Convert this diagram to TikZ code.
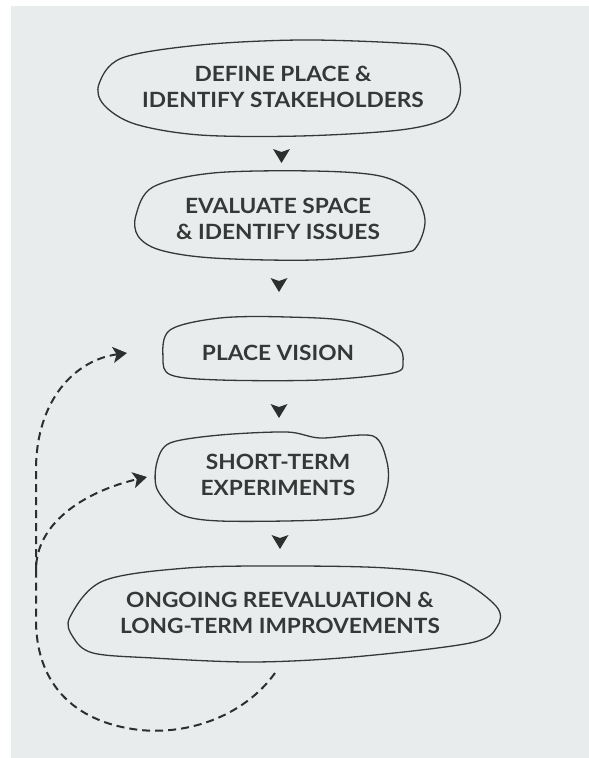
\documentclass[tikz,border=0pt]{standalone}
\usepackage{fontspec}
\setmainfont{Lato}[UprightFont=* Bold, FakeStretch=1.08]
\usetikzlibrary{arrows.meta,calc}
\definecolor{paper}{HTML}{E8ECEC}
\definecolor{ink}{HTML}{363837}
\definecolor{tipink}{HTML}{2C2F2D}
\tikzset{
  blob/.style={draw=ink, line width=1.3pt, line join=round},
  steptext/.style={text=ink, align=center, font=\fontsize{21}{26.5}\selectfont, inner sep=0pt},
  loopline/.style={draw=tipink, line width=2pt, dash pattern=on 8pt off 5pt,
    -{Stealth[length=14pt, width=16pt, inset=3.5pt]}},
  downtip/.style={fill=tipink}
}
\begin{document}
\begin{tikzpicture}[x=1pt, y=-1pt]
  % canvas and grey panel
  \useasboundingbox (0,0) rectangle (589,758);
  \fill[white] (0,0) rectangle (589,758);
  \fill[paper] (11,6) rectangle (589,758);

  % hand-drawn outlines
  \draw[blob] plot[smooth cycle, tension=0.55] coordinates {
    (99,84) (122,58) (200,45) (300,40) (400,43) (440,48) (456,68) (460,95)
    (446,118) (400,130) (300,136) (200,135) (135,124) (104,105)};
  \draw[blob] plot[smooth cycle, tension=0.55] coordinates {
    (136,215) (153,187) (213,173) (313,171) (380,176) (413,193) (425,220)
    (417,246) (400,253) (313,260) (213,258) (160,250) (138,236)};
  \draw[blob] plot[smooth cycle, tension=0.55] coordinates {
    (163,358) (170,330) (220,318) (287,317) (353,322) (396,344) (403,362)
    (393,373) (320,380) (220,380) (171,375)};
  \draw[blob] plot[smooth cycle, tension=0.5] coordinates {
    (157,462) (170,443) (220,435) (287,432) (320,438) (373,436) (387,462)
    (387,488) (373,513) (320,520) (220,521) (180,514) (157,489)};
  \draw[blob] plot[smooth cycle, tension=0.55] coordinates {
    (70,617) (103,581) (187,568) (287,566) (387,568) (453,577) (496,606)
    (497,627) (470,643) (353,657) (253,662) (153,658) (93,653) (73,637)};

  % step texts
  \node[steptext] (b1) at (283,87)  {DEFINE PLACE \&\\IDENTIFY STAKEHOLDERS};
  \node[steptext] (b2) at (278,219) {EVALUATE SPACE\\\& IDENTIFY ISSUES};
  \node[steptext] (b3) at (278,353) {PLACE VISION};
  \node[steptext] (b4) at (278,475) {SHORT-TERM\\EXPERIMENTS};
  \node[steptext] (b5) at (280,613) {ONGOING REEVALUATION \&\\LONG-TERM IMPROVEMENTS};

  % downward arrowheads between the steps
  \foreach \a/\b/\dy in {b1/b2/3, b2/b3/-1, b3/b4/-3, b4/b5/-2}{
    \path ($(\a)!0.5!(\b)$) ++(1,\dy) coordinate (m);
    \fill[downtip] (m) ++(-8.5,-7) -- ++(8.5,3) -- ++(8.5,-3) -- ++(-8.5,14) -- cycle;
  }

  % feedback loops
  \coordinate (loopstart) at (275,673);
  \coordinate (fork) at (36,570);
  \coordinate (toB4) at (147,477);
  \coordinate (toB3) at (127,353);
  \draw[loopline] (loopstart) .. controls (245,715) and (190,735) .. (140,730)
    .. controls (70,722) and (36,680) .. (36,620) -- (fork)
    .. controls (36,520) and (90,490) .. (toB4);
  \draw[loopline] (fork) -- (36,470) .. controls (36,400) and (75,360) .. (toB3);
\end{tikzpicture}
\end{document}
